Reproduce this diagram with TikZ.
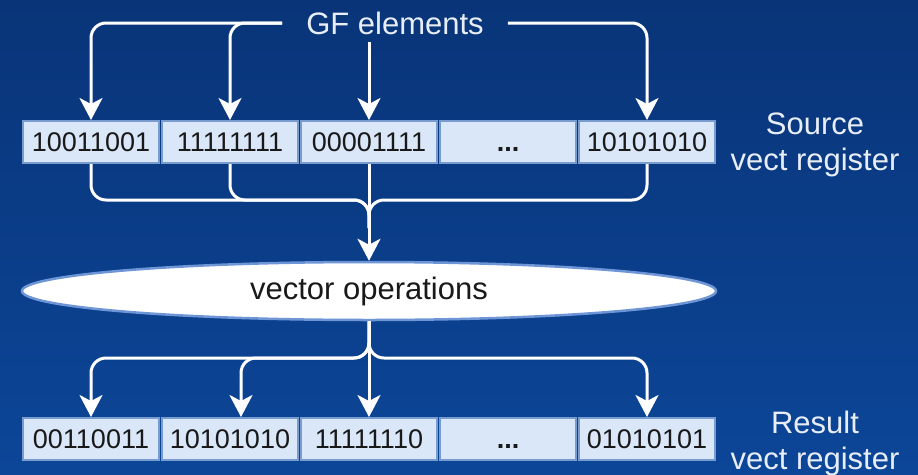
\documentclass[tikz,border=0pt]{standalone}
\usepackage{fontspec}
\setmainfont{Liberation Sans}
\usetikzlibrary{arrows.meta,shapes.geometric,calc}
\definecolor{bgtop}{RGB}{9,52,120}
\definecolor{bgbot}{RGB}{12,70,152}
\definecolor{boxfill}{RGB}{218,231,248}
\definecolor{boxline}{RGB}{120,155,208}
\definecolor{lbl}{RGB}{232,238,248}
\definecolor{ellline}{RGB}{110,150,215}
\tikzset{
  regbox/.style={draw=boxline,line width=2pt,fill=boxfill,minimum width=136pt,minimum height=42pt,inner sep=0pt,text height=19pt,text depth=0pt,font=\fontsize{27}{30}\selectfont,text=black!90},
  wire/.style={draw=white,line width=3pt,rounded corners=15pt},
  arr/.style={wire,-{Stealth[length=22pt,width=23pt,inset=6pt]}},
  lab/.style={text=lbl,font=\fontsize{31}{36}\selectfont,align=center}
}
\begin{document}
\begin{tikzpicture}[x=1pt,y=-1pt]
\useasboundingbox (0,0) rectangle (918,474);
\shade[top color=bgtop,bottom color=bgbot] (0,0) rectangle (918,474);
% source register
\node[regbox] (s1) at (91,142) {10011001};
\node[regbox] (s2) at (230,142) {11111111};
\node[regbox] (s3) at (369,142) {00001111};
\node[regbox] (s4) at (508,142) {\textbf{...}};
\node[regbox] (s5) at (647,142) {10101010};
% result register
\node[regbox] (r1) at (91,439) {00110011};
\node[regbox] (r2) at (230,439) {10101010};
\node[regbox] (r3) at (369,439) {11111110};
\node[regbox] (r4) at (508,439) {\textbf{...}};
\node[regbox] (r5) at (647,439) {01010101};
% labels
\node[lab,inner xsep=24pt,inner ysep=8pt,text height=22pt,text depth=0pt] (gf) at (395,23) {GF elements};
\node[lab] (srcl) at (815,145) {Source\\vect register};
\node[lab] (resl) at (815,443) {Result\\vect register};
% ellipse
\node[ellipse,draw=ellline,line width=2.5pt,fill=white,minimum width=694pt,minimum height=58pt,inner sep=0pt,font=\fontsize{31}{36}\selectfont,text=black!90] (ops) at (369,291) {vector operations};
% top fan-out
\draw[arr] (gf.west) -| (s1.north);
\draw[arr] (gf.west) -| (s2.north);
\draw[arr] (s3.north |- gf.south) -- (s3.north);
\draw[arr] (gf.east) -| (s5.north);
% merge into ellipse
\coordinate (m1) at (369,200);
\coordinate (m1b) at (369,228);
\draw[wire] (s1.south) |- (m1) -- (m1b);
\draw[wire] (s2.south) |- (m1) -- (m1b);
\draw[wire] (s5.south) |- (m1) -- (m1b);
\draw[arr] (s3.south) -- (ops.north);
% fan-out to result
\coordinate (m2) at (369,358);
\draw[arr] (ops.south) -- (m2) -| (r1.north);
\draw[arr] (ops.south) -- (m2) -| ($(r2.north)+(11,0)$);
\draw[arr] (ops.south) -- (m2) -| (r5.north);
\draw[arr] (ops.south) -- (r3.north);
\end{tikzpicture}
\end{document}
